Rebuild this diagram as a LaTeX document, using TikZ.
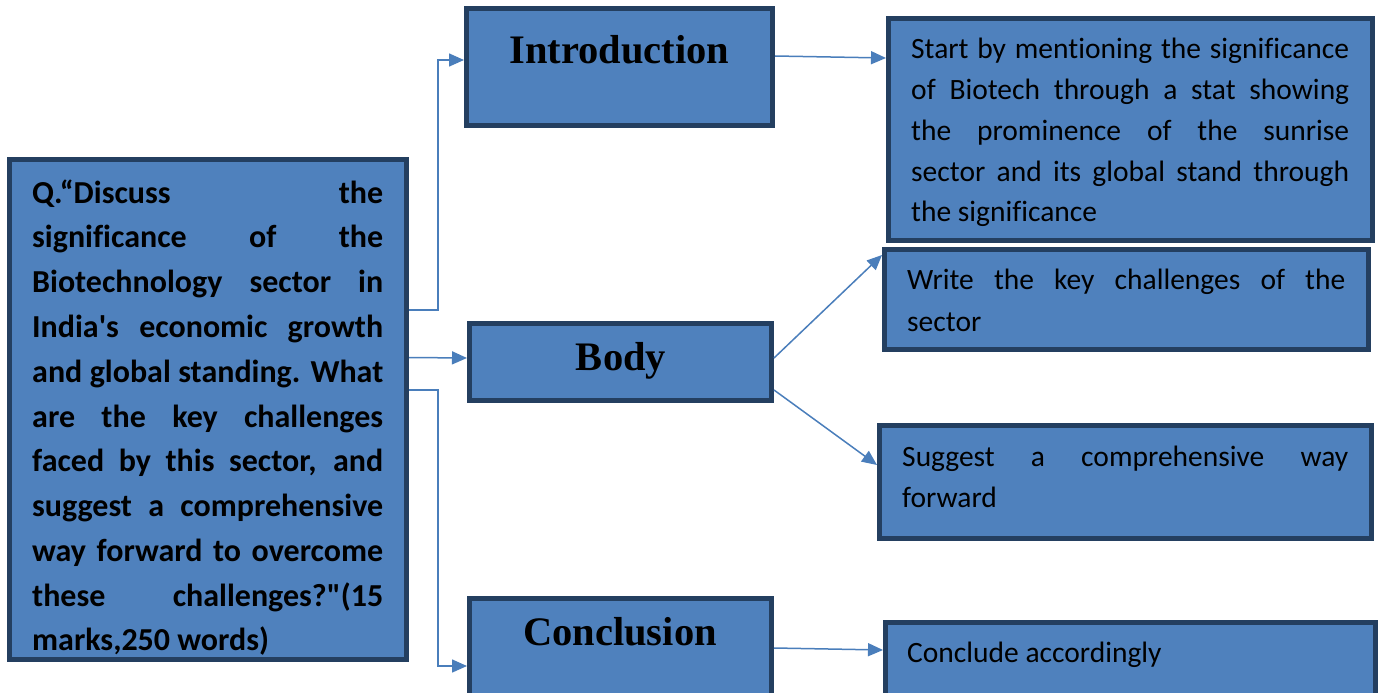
\documentclass[tikz,border=0pt]{standalone}
\usepackage{fontspec}
\usetikzlibrary{arrows.meta}
\newfontfamily\bodyfont[Ligatures=NoCommon]{Carlito}
\newfontfamily\headfont{Liberation Serif}
\definecolor{boxfill}{HTML}{4F81BD}
\definecolor{boxline}{HTML}{243F60}
\definecolor{arrowblue}{HTML}{4A7EBB}
% one justified line of a given width, and one natural-width line
\newcommand\jl[2]{\hbox to #1{#2}}
\newcommand\nl[1]{\hbox{#1}}
\begin{document}
\begin{tikzpicture}[x=1pt,y=-1pt,
  box/.style={draw=boxline,fill=boxfill,line width=5pt,inner sep=0pt},
  head/.style={font=\headfont\bfseries\fontsize{40.5}{44}\selectfont,anchor=base,inner sep=0pt},
  txt/.style={anchor=base west,inner sep=0pt},
  conn/.style={draw=arrowblue,line width=1.5pt,-{Triangle[length=15pt,width=13pt]}}]
\clip (0,0) rectangle (1382,693);
\fill[white] (0,0) rectangle (1382,693);

% boxes
\node[box,minimum width=397pt,minimum height=500pt] (q) at (208,409.5) {};
\node[box,minimum width=306pt,minimum height=117pt] (intro) at (619.5,67) {};
\node[box,minimum width=302pt,minimum height=77pt] (body) at (620.5,362) {};
\node[box,minimum width=302pt,minimum height=120pt] (concl) at (620.5,658.5) {};
\node[box,minimum width=484pt,minimum height=222pt] (start) at (1130.5,129.5) {};
\node[box,minimum width=484pt,minimum height=100pt] (write) at (1126.5,299.5) {};
\node[box,minimum width=492pt,minimum height=113pt] (suggest) at (1125.5,482) {};
\node[box,minimum width=490pt,minimum height=95pt] (conclude) at (1130.5,670) {};

% question text
\node[txt] (qtext) at (32,203) {\bodyfont\bfseries\fontsize{32}{45}\selectfont
  \vtop{\baselineskip=44.8pt
  \jl{351pt}{Q.“Discuss the}
  \jl{351pt}{significance of the}
  \jl{351pt}{Biotechnology sector in}
  \jl{351pt}{India's economic growth}
  \jl{351pt}{and global standing. What}
  \jl{351pt}{are the key challenges}
  \jl{351pt}{faced by this sector, and}
  \jl{351pt}{suggest a comprehensive}
  \jl{351pt}{way forward to overcome}
  \jl{351pt}{these challenges?"(15}
  \nl{marks,250 words)}}};

% headings
\node[head] (introtext) at (619.5,64) {Introduction};
\node[head] (bodytext) at (621,370) {Body};
\node[head] (concltext) at (620,645) {Conclusion};

% right-hand notes
\node[txt] (starttext) at (911,59) {\bodyfont\fontsize{29.5}{41}\selectfont
  \vtop{\baselineskip=40.75pt
  \jl{438pt}{Start by mentioning the significance}
  \jl{438pt}{of Biotech through a stat showing}
  \jl{438pt}{the prominence of the sunrise}
  \jl{438pt}{sector and its global stand through}
  \nl{the significance}}};
\node[txt] (writetext) at (907,289) {\bodyfont\fontsize{29.5}{42}\selectfont
  \vtop{\baselineskip=42pt
  \jl{438pt}{Write the key challenges of the}
  \nl{sector}}};
\node[txt] (suggesttext) at (902,466) {\bodyfont\fontsize{29.5}{41}\selectfont
  \vtop{\baselineskip=41pt
  \jl{446pt}{Suggest a comprehensive way}
  \nl{forward}}};
\node[txt] (concludetext) at (907,662) {\bodyfont\fontsize{29.5}{41}\selectfont Conclude accordingly};

% connectors
\draw[conn] ([yshift=99.5pt]q.east) -- ++(29,0) |- ([yshift=7pt]intro.west);
\draw[conn] ([yshift=52pt]q.east) -- ([yshift=4pt]body.west);
\draw[conn] ([yshift=19.5pt]q.east) -- ++(29,0) |- ([yshift=-7.5pt]concl.west);
\draw[conn] ([yshift=11pt]intro.east) -- ([yshift=71.5pt]start.west);
\draw[conn] ([yshift=4pt]body.east) -- ([yshift=44.5pt]write.west);
\draw[conn] ([yshift=-28pt]body.east) -- ([yshift=17pt]suggest.west);
\draw[conn] ([yshift=10.5pt]concl.east) -- ([yshift=20pt]conclude.west);
\end{tikzpicture}
\end{document}
